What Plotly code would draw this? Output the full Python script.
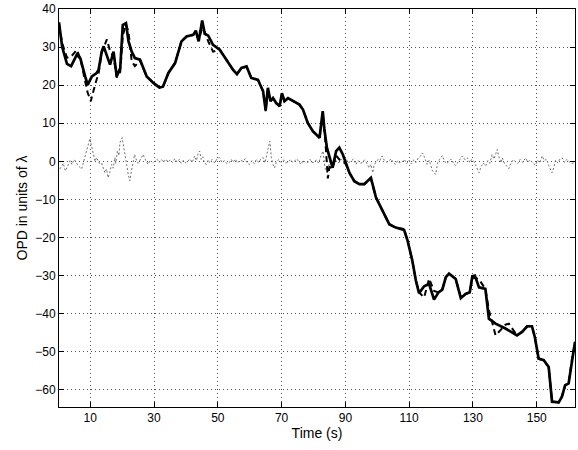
import plotly.graph_objects as go

# Solid line (measured OPD)
t_solid = [0.2, 1.2, 2.7, 4.0, 5.8, 6.9, 8.4, 9.2, 10.5, 12.0, 12.6, 13.6, 14.2, 15.2, 16.2, 17.3, 18.3, 19.4, 20.2, 21.2,
           22.0, 23.0, 24.0, 25.6, 27.7, 29.8, 31.7, 32.8, 34.5, 36.6, 38.6, 40.2, 42.3, 43.1, 44.0, 45.1, 45.9, 47.0, 48.5, 50.6,
           52.7, 54.8, 56.0, 57.4, 59.0, 60.5, 62.6, 64.2, 65.0, 65.7, 66.5, 67.3, 68.3, 69.4, 70.1, 70.9, 72.0, 73.5, 75.6, 76.7,
           78.2, 79.8, 81.3, 81.9, 82.9, 83.4, 84.2, 85.0, 86.0, 87.1, 88.1, 89.2, 90.2, 91.25, 92.8, 94.4, 95.9, 98.0, 99.6, 100.6,
           102.2, 103.75, 105.8, 108.4, 109.5, 111.0, 112.1, 113.1, 114.7, 116.25, 117.8, 119.2, 120.4, 121.5, 122.5, 124.6, 126.2, 127.7, 129.0, 129.8,
           130.6, 131.9, 133.9, 135.0, 137.1, 140.2, 143.8, 145.4, 147.0, 148.5, 149.4, 150.6, 152.2, 153.75, 154.8, 156.9, 157.9, 158.9, 160.0, 161.0,
           162.0]
v_solid = [36.5, 30.0, 25.6, 25.0, 28.0, 27.0, 22.3, 20.1, 22.3, 23.2, 24.0, 28.8, 30.2, 28.0, 25.4, 28.8, 22.3, 24.5, 35.8, 36.3,
           31.5, 28.8, 27.1, 26.7, 22.3, 20.6, 19.4, 19.6, 23.2, 25.8, 31.5, 32.8, 33.2, 34.3, 31.5, 37.0, 33.5, 33.0, 30.6, 29.3,
           26.7, 24.0, 22.9, 24.5, 24.9, 21.9, 21.4, 18.4, 13.4, 19.3, 15.8, 16.6, 15.3, 14.5, 17.9, 15.8, 16.6, 15.8, 14.9, 13.6,
           10.1, 7.9, 6.6, 6.2, 13.2, 8.5, 3.6, 0.9, -1.7, 2.7, 3.6, 1.8, -0.8, -3.0, -5.2, -6.0, -6.0, -4.3, -9.5, -11.2,
           -13.9, -16.5, -17.4, -18.0, -20.8, -26.1, -31.3, -34.6, -32.8, -32.2, -36.3, -34.4, -33.7, -30.4, -29.5, -30.9, -35.9, -34.8, -34.4, -30.2,
           -30.0, -33.1, -33.5, -41.3, -42.6, -43.9, -45.7, -44.8, -43.3, -43.3, -46.1, -51.8, -52.2, -54.0, -63.1, -63.3, -61.8, -58.8, -58.3, -52.2,
           -47.4]

# Dashed line (estimated OPD)
t_dash = [0.2, 1.2, 2.7, 4.0, 5.8, 6.9, 8.4, 9.2, 10.2, 10.5, 12.0, 12.6, 13.6, 14.2, 15.2, 16.2, 17.3, 18.3, 19.4, 20.2,
          21.2, 22.0, 23.0, 24.0, 25.6, 27.7, 29.8, 31.7, 32.8, 34.5, 36.6, 38.6, 40.2, 42.3, 43.1, 44.0, 45.1, 45.9, 47.0, 48.5,
          50.6, 52.7, 54.8, 56.0, 57.4, 59.0, 60.5, 62.6, 64.2, 65.0, 65.7, 66.5, 67.3, 68.3, 69.4, 70.1, 70.9, 72.0, 73.5, 75.6,
          76.7, 78.2, 79.8, 81.3, 81.9, 82.9, 83.4, 83.75, 84.5, 85.0, 86.0, 87.1, 88.1, 89.2, 90.2, 91.25, 92.8, 94.4, 95.9, 98.0,
          99.6, 100.6, 102.2, 103.75, 105.8, 108.4, 109.5, 111.0, 112.1, 113.1, 114.7, 116.25, 117.8, 119.2, 120.4, 121.5, 122.5, 124.6, 126.2, 127.7,
          129.0, 129.8, 130.6, 131.9, 133.9, 135.0, 137.1, 140.2, 141.25, 143.8, 145.4, 147.0, 148.5, 149.4, 150.6, 152.2, 153.75, 154.8, 156.9, 157.9,
          158.9, 160.0, 161.0, 162.0]
v_dash = [36.0, 31.0, 27.2, 27.5, 29.3, 27.0, 21.0, 18.0, 15.8, 17.0, 21.5, 23.0, 28.5, 30.0, 32.0, 29.0, 27.5, 22.0, 23.5, 33.0,
          36.0, 34.0, 26.3, 25.0, 26.5, 22.3, 20.6, 19.4, 19.6, 23.2, 25.8, 31.5, 32.8, 33.2, 34.0, 31.8, 35.0, 34.0, 31.5, 28.8,
          29.3, 26.7, 24.0, 22.9, 24.5, 24.9, 21.9, 21.4, 18.4, 13.2, 19.0, 15.8, 16.6, 15.3, 14.5, 17.6, 15.8, 16.6, 15.8, 14.9,
          13.6, 10.1, 7.9, 6.6, 6.2, 12.8, 8.5, 5.0, -4.5, -1.5, -1.7, 1.5, 0.5, 0.0, -0.8, -3.0, -5.2, -6.0, -6.0, -4.6,
          -9.5, -11.2, -13.9, -16.5, -17.4, -17.8, -20.8, -26.1, -31.3, -34.4, -35.7, -30.8, -34.0, -34.4, -33.5, -30.4, -29.4, -30.9, -35.7, -34.8,
          -34.4, -30.8, -30.5, -31.0, -33.5, -39.0, -45.7, -42.9, -42.6, -45.7, -44.8, -43.3, -43.3, -46.1, -51.8, -52.2, -54.0, -63.1, -63.3, -61.8,
          -58.8, -58.3, -52.2, -47.4]

# Dotted line (difference)
t_diff = [0.5, 1.5, 2.2, 3.0, 3.7, 4.2, 5.0, 5.7, 6.3, 7.3, 8.0, 8.3, 8.9, 9.4, 9.9, 10.4, 10.9, 11.5, 12.0, 12.8,
          13.5, 14.0, 14.6, 15.1, 15.6, 16.1, 16.7, 17.2, 17.7, 18.0, 18.5, 19.0, 19.3, 20.0, 20.6, 21.0, 21.4, 21.9, 22.4, 23.1,
          23.9, 24.5, 25.0, 25.8, 26.6, 27.3, 28.1, 28.8, 29.5, 30.2, 31.0, 31.6, 32.3, 33.0, 33.7, 34.4, 35.1, 35.8, 36.5, 37.2,
          37.9, 38.5, 39.2, 39.9, 40.6, 41.3, 42.0, 42.7, 43.3, 43.8, 44.3, 44.8, 45.3, 45.8, 46.4, 47.0, 47.4, 48.2, 49.0, 49.7,
          50.5, 51.3, 52.1, 52.8, 53.6, 54.2, 54.8, 55.5, 56.2, 57.0, 57.9, 58.6, 59.3, 60.0, 60.7, 61.4, 62.1, 62.8, 63.5, 64.2,
          64.8, 65.3, 65.8, 66.3, 66.8, 67.3, 67.8, 68.3, 69.0, 69.9, 70.6, 71.3, 72.0, 72.8, 73.5, 74.0, 74.8, 75.5, 76.1, 76.8,
          77.5, 78.2, 78.9, 79.5, 80.2, 80.9, 81.6, 82.3, 83.0, 83.6, 84.3, 85.2, 86.0, 86.7, 87.4, 88.1, 88.8, 89.5, 90.2, 91.0,
          91.7, 92.5, 93.3, 94.0, 94.7, 95.3, 96.0, 96.7, 97.4, 98.0, 98.6, 99.0, 99.5, 100.2, 100.8, 101.5, 102.2, 102.9, 103.6, 104.3,
          105.0, 105.7, 106.4, 107.0, 107.7, 108.5, 109.2, 110.0, 110.7, 111.4, 112.1, 112.8, 113.5, 114.2, 114.9, 115.6, 116.3, 116.8, 117.3, 118.3,
          118.9, 119.5, 120.4, 121.0, 121.7, 122.5, 123.2, 123.9, 124.6, 125.3, 126.0, 126.7, 127.5, 128.3, 129.0, 129.6, 130.3, 131.0, 131.9, 132.5,
          133.2, 134.0, 134.7, 135.3, 136.0, 136.6, 137.1, 137.6, 138.2, 138.8, 139.2, 139.9, 140.6, 141.25, 141.9, 142.6, 143.3, 144.0, 144.8, 145.6,
          146.5, 147.2, 148.0, 148.8, 149.6, 150.3, 151.0, 151.7, 152.4, 153.1, 153.75, 154.3, 154.8, 155.4, 155.9, 156.6, 157.3, 158.0, 158.7, 159.4,
          160.0, 160.8, 161.6]
v_diff = [-2.0, -0.5, -2.5, -1.0, 0.2, -0.8, 0.5, -0.5, -1.2, -2.0, 0.0, 1.0, 3.1, 4.4, 6.0, 4.0, 1.8, 0.0, 1.0, -0.5,
          -0.3, -1.5, -3.0, -2.0, -4.3, -3.0, -0.8, -1.8, 1.0, -0.5, 2.7, 1.5, 4.9, 6.2, 3.6, 1.5, -0.8, -3.4, -5.1, -1.7,
          1.8, 0.3, -0.5, 0.6, 1.8, 0.4, -0.8, 0.3, -0.4, 0.0, 0.5, -0.3, 0.5, -0.2, 0.6, -0.2, 0.4, -0.3, 0.7, -0.2,
          0.5, -0.5, 0.3, -0.4, 0.0, 0.6, -0.3, 1.4, 0.2, 2.0, 2.7, 0.5, 1.2, -0.5, -0.8, 0.4, -0.3, 0.5, -0.4, 0.6,
          1.0, -0.3, 0.2, -0.6, -0.3, 0.5, -0.2, 0.6, -0.4, 0.3, 0.0, 0.7, -0.5, -0.8, 0.2, -0.6, 0.5, -0.3, 0.6, 1.0,
          -0.4, 1.5, 3.1, 5.3, 1.0, -0.8, -1.7, -0.3, 0.4, -0.3, 0.4, -0.4, -0.3, 0.5, -0.3, 0.0, 0.6, -0.2, -0.8, 0.3,
          -0.4, -0.3, 0.5, -0.3, -0.3, 0.4, -0.5, 1.4, 2.7, -1.7, -3.0, 0.5, 0.0, 0.8, -0.4, -0.3, 0.5, -0.2, 0.5, -0.3,
          0.0, 0.6, -0.8, 0.2, -0.5, -0.3, 0.4, -0.5, -1.7, -0.8, -3.0, -1.0, -0.3, 0.5, 0.2, 1.4, 0.3, -0.2, 0.0, 0.7,
          -0.3, -0.8, 0.2, -0.4, -0.3, 0.5, -0.6, 0.3, -0.7, 0.4, -0.3, 0.8, 1.3, 2.2, 0.9, -0.8, 0.3, -1.5, -2.5, -3.4,
          -0.5, 0.5, 1.5, 0.2, -0.6, 0.0, 0.6, -0.5, -1.1, -0.2, 0.6, 1.4, 0.4, 0.9, -0.3, 0.5, 0.0, -1.2, -3.0, -1.5,
          -0.4, -1.2, 0.2, -0.5, 1.8, 0.6, 2.0, 3.1, 1.0, -0.4, 0.9, -0.6, -1.2, -1.9, -0.5, 0.4, 0.0, -0.6, 0.5, -0.3,
          0.9, -0.2, 0.4, -0.5, -1.0, 0.3, -0.4, 1.4, 0.2, 0.6, -1.1, -2.0, -3.0, -1.5, 0.3, -0.4, 0.6, 0.9, -0.3, 0.5,
          0.0, -0.6, -0.4]

x_ticks = [10, 30, 50, 70, 90, 110, 130, 150]
y_ticks = [-60, -50, -40, -30, -20, -10, 0, 10, 20, 30, 40]

fig = go.Figure()
fig.add_trace(go.Scatter(x=t_diff, y=v_diff, mode="lines",
                         line=dict(color="#707070", width=1, dash="2px,2px"), showlegend=False))
fig.add_trace(go.Scatter(x=t_dash, y=v_dash, mode="lines",
                         line=dict(color="black", width=2, dash="6px,4px"), showlegend=False))
fig.add_trace(go.Scatter(x=t_solid, y=v_solid, mode="lines",
                         line=dict(color="black", width=2.7), showlegend=False))

axis_common = dict(
    showline=True, linecolor="black", linewidth=1, mirror="ticks",
    ticks="inside", ticklen=5, tickcolor="black",
    showgrid=True, gridcolor="#555555", griddash="1px,3px", gridwidth=1,
    zeroline=False,
    tickfont=dict(family="Liberation Sans, Arial, sans-serif", size=12, color="black"),
)

fig.update_layout(
    width=578, height=450,
    margin=dict(l=59, r=2, t=7, b=43),
    paper_bgcolor="white", plot_bgcolor="white",
    font=dict(family="Liberation Sans, Arial, sans-serif", size=12, color="black"),
    xaxis=dict(range=[0.2, 162], tickvals=x_ticks,
               title=dict(text="Time (s)", standoff=2, font=dict(size=14)), **axis_common),
    yaxis=dict(range=[-64.5, 40], tickvals=y_ticks,
               title=dict(text="OPD in units of λ", standoff=4, font=dict(size=14)), **axis_common),
)

fig.write_html("out.html", config={"displayModeBar": False})

# remove default page margin so the figure sits at the window origin
with open("out.html", "r", encoding="utf-8") as f:
    html = f.read()
html = html.replace("<head>", "<head><style>html,body{margin:0;padding:0;overflow:hidden;}</style>", 1)
with open("out.html", "w", encoding="utf-8") as f:
    f.write(html)
